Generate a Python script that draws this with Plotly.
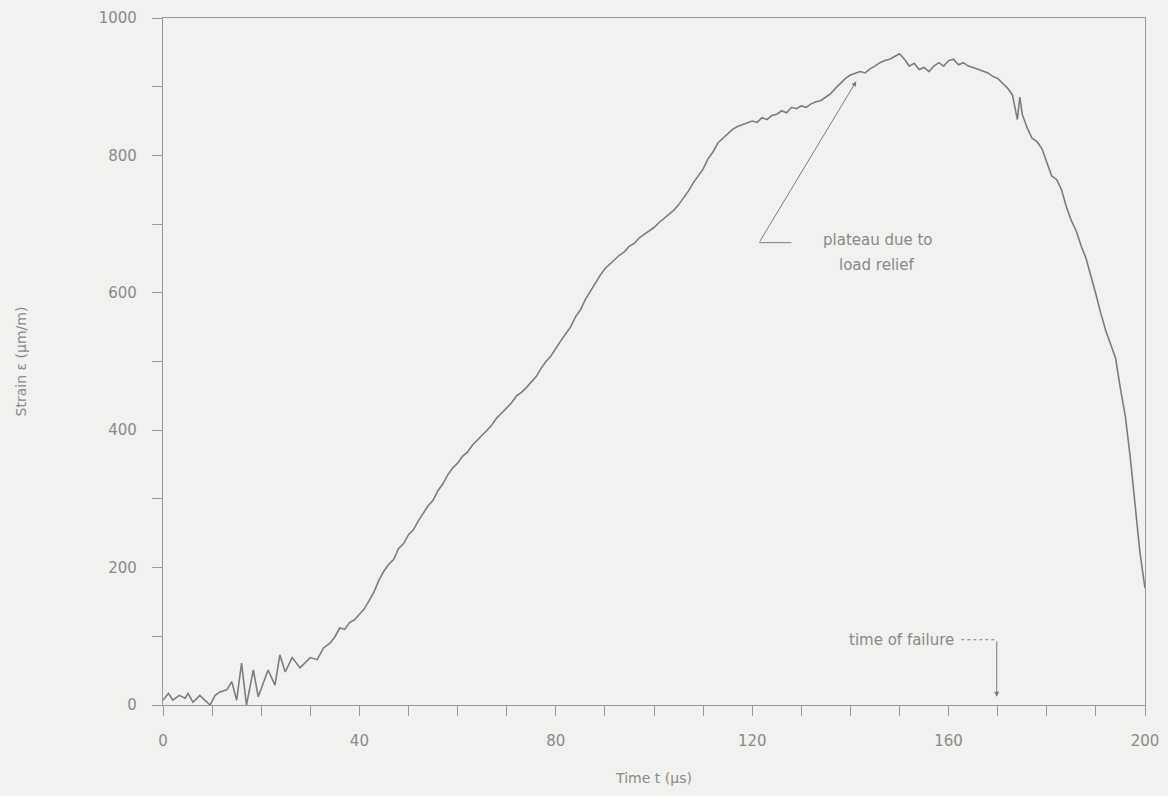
import plotly.graph_objects as go

# Time (microseconds) and strain (micro-m/m)
time_us = [0, 1.1, 2, 3.3, 4.5, 5.1, 6.1, 7.5, 8.5, 9.6, 10.6, 11.6, 13, 14, 15, 16, 17, 18.4, 19.4,
           21.4, 22.8, 23.8, 24.9, 26.3, 27.9, 30, 31.4, 32.7, 34, 35, 36,
           37, 38, 39, 40, 41, 42, 43, 44, 45, 46, 47, 48, 49, 50, 51, 52, 53, 54, 55, 56, 57, 58, 59,
           60, 61, 62, 63, 64, 65, 66, 67, 68, 69, 70, 71, 72, 73, 74, 75, 76, 77, 78, 79,
           80, 81, 82, 83, 84, 85, 86, 87, 88, 89, 90, 91, 92, 93, 94, 95, 96, 97, 98, 99,
           100, 101, 102, 103, 104, 105, 106, 107, 108, 109, 110, 111, 112, 113, 114, 115, 116, 117, 118, 119,
           120, 121, 122, 123, 124, 125, 126, 127, 128, 129, 130, 131, 132, 133, 134, 135, 136, 137, 138, 139,
           140, 141, 142, 143, 144, 145, 146, 147, 148, 149, 150, 151, 152, 153, 154, 155, 156, 157, 158, 159,
           160, 161, 162, 163, 164, 165, 166, 167, 168, 169, 170, 171, 172, 173, 173.5, 174, 174.5, 175, 176, 177, 178, 179,
           180, 181, 182, 183, 184, 185, 186, 187, 188, 189, 190, 191, 192, 193, 194, 195, 196, 197, 198, 199, 200]
strain = [7, 17, 7, 14, 10, 17, 4, 14, 7, 0, 14, 19, 22, 34, 7, 61, 0, 51, 12,
          51, 29, 73, 48, 69, 54, 69, 66, 83, 90, 99, 112,
          110, 120, 124, 132, 140, 152, 165, 182, 195, 205, 212, 228, 235, 248, 255, 268, 280, 290, 298, 312, 322, 335, 345,
          352, 362, 368, 378, 385, 392, 400, 408, 418, 425, 432, 440, 450, 455, 462, 470, 478, 490, 500, 508,
          520, 530, 540, 550, 565, 575, 590, 602, 615, 625, 635, 642, 648, 655, 660, 668, 672, 680, 685, 690,
          695, 702, 708, 714, 720, 728, 738, 748, 760, 770, 780, 795, 805, 818, 825, 832, 838, 842, 845, 848,
          850, 848, 855, 852, 858, 860, 865, 862, 870, 868, 872, 870, 875, 878, 880, 885, 890, 898, 905, 912,
          917, 920, 922, 920, 926, 930, 935, 938, 940, 944, 948, 940, 930, 934, 925, 928, 922, 930, 935, 930,
          938, 940, 932, 935, 930, 928, 925, 922, 920, 915, 912, 905, 898, 888, 870, 852, 885, 860, 840, 825, 820, 810,
          790, 770, 765, 750, 725, 705, 690, 668, 650, 625, 598, 570, 545, 525, 505, 460, 420, 360, 290, 220, 170]

GRAY = "#7d7d7d"
TEXT = "#8a8a8a"
BG = "#f1f1ef"
FONT = "DejaVu Sans, Liberation Sans, sans-serif"

fig = go.Figure()
fig.add_trace(go.Scatter(x=time_us, y=strain, mode="lines",
                         line=dict(color=GRAY, width=1.6), showlegend=False, hoverinfo="skip"))

axis_common = dict(showline=True, linecolor="#9a9a9a", linewidth=1.2, mirror=True,
                   showgrid=False, zeroline=False, ticks="outside", ticklen=10, automargin=False,
                   tickcolor="#9a9a9a", tickfont=dict(family=FONT, size=15, color=TEXT))

fig.update_xaxes(range=[0, 200], dtick=40, tick0=0, ticklabelstandoff=12,
                 minor=dict(dtick=10, ticks="outside", ticklen=10, tickcolor="#9a9a9a"),
                 title=dict(text="Time t (μs)", font=dict(family=FONT, size=14, color=TEXT), standoff=24),
                 **axis_common)
fig.update_yaxes(range=[0, 1000], dtick=200, tick0=0, ticklabelstandoff=12,
                 minor=dict(dtick=100, ticks="outside", ticklen=10, tickcolor="#9a9a9a"),
                 title=dict(text="Strain ε (μm/m)", font=dict(family=FONT, size=14, color=TEXT), standoff=68),
                 **axis_common)

# plateau annotation
fig.add_shape(type="line", x0=121.4, y0=673, x1=128, y1=673, line=dict(color=GRAY, width=1))
fig.add_annotation(x=141.2, y=908, ax=121.4, ay=673, axref="x", ayref="y",
                   showarrow=True, arrowhead=2, arrowsize=1, arrowwidth=1, arrowcolor=GRAY, text="")
fig.add_annotation(x=145.6, y=677, text="plateau due to", showarrow=False,
                   font=dict(family=FONT, size=15, color=TEXT), align="center")
fig.add_annotation(x=145.4, y=641, text="load relief", showarrow=False,
                   font=dict(family=FONT, size=15, color=TEXT), align="center")

# time of failure annotation
fig.add_annotation(x=161.6, y=95, text="time of failure", showarrow=False, xanchor="right",
                   font=dict(family=FONT, size=15, color=TEXT))
fig.add_shape(type="line", x0=162.6, y0=95, x1=169.8, y1=95, line=dict(color=GRAY, width=1, dash="dot"))
fig.add_annotation(x=169.8, y=12, ax=169.8, ay=95, axref="x", ayref="y",
                   showarrow=True, arrowhead=2, arrowsize=1, arrowwidth=1, arrowcolor=GRAY, text="")

fig.update_layout(width=1168, height=796, margin=dict(l=163, r=23, t=18, b=91, autoexpand=False),
                  paper_bgcolor=BG, plot_bgcolor=BG, font=dict(family=FONT, color=TEXT))

fig.write_html("out.html")
